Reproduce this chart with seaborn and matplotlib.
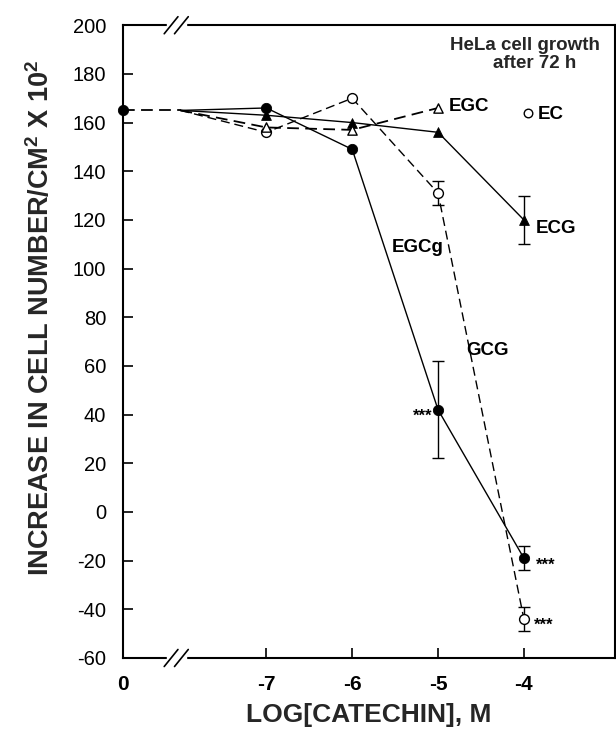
import numpy as np
import pandas as pd
import matplotlib
matplotlib.use("Agg")
import matplotlib.pyplot as plt
import seaborn as sns

# ---------------- data ----------------
log_conc = [-7, -6, -5, -4]
x_tick_pos = [-8.67, -7, -6, -5, -4]
x_tick_labels = ["0", "-7", "-6", "-5", "-4"]
y_ticks = list(range(-60, 201, 20))

control_value = 165.0          # value at zero catechin
control_pos = -8.67            # plotted position of "0"
break_pos = -8.0               # lines fan out from the axis break

egcg = [166, 149, 42, -19]
egcg_err = [0, 0, 20, 5]
gcg = [156, 170, 131, -44]
gcg_err = [0, 0, 5, 5]
egc_conc = [-7, -6, -5]
egc = [158, 157, 166]
ecg = [163, 160, 156, 120]
ecg_err = [0, 0, 0, 10]
ec_conc = [-3.95]
ec = [164]

# ---------------- style ----------------
sns.set_theme(style="ticks")
plt.rcParams["font.family"] = ["Liberation Sans", "DejaVu Sans"]
plt.rcParams["mathtext.fontset"] = "custom"
plt.rcParams["mathtext.rm"] = "Liberation Sans:bold"
plt.rcParams["mathtext.bf"] = "Liberation Sans:bold"

fig = plt.figure(figsize=(6.16, 7.29), dpi=100)
ax = fig.add_axes([0.1997, 0.0974, 0.7985, 0.868])

def series_df(xs, ys):
    return pd.DataFrame({"x": [break_pos] + list(xs), "y": [control_value] + list(ys)})

lw = 1.0
dash = (6.5, 3.5)

# control segment
sns.lineplot(data=pd.DataFrame({"x": [control_pos, break_pos], "y": [control_value, control_value]}),
             x="x", y="y", ax=ax, color="black", lw=1.3,
             linestyle=(0, dash), sort=False, errorbar=None, legend=False)

# EGCg: filled circle, solid
sns.lineplot(data=series_df(log_conc, egcg), x="x", y="y", ax=ax, color="black",
             lw=lw, sort=False, errorbar=None, legend=False)
# ECG: filled triangle, solid
sns.lineplot(data=series_df(log_conc, ecg), x="x", y="y", ax=ax, color="black",
             lw=lw, sort=False, errorbar=None, legend=False)
# GCG: open circle, dashed
sns.lineplot(data=series_df(log_conc, gcg), x="x", y="y", ax=ax, color="black",
             lw=lw, linestyle=(0, dash), sort=False, errorbar=None, legend=False)
# EGC: open triangle, dashed
sns.lineplot(data=series_df(egc_conc, egc), x="x", y="y", ax=ax, color="black",
             lw=1.3, linestyle=(0, dash), sort=False, errorbar=None, legend=False)

# error bars
def ebar(xs, ys, errs):
    for xv, yv, ev in zip(xs, ys, errs):
        if ev > 0:
            ax.errorbar([xv], [yv], yerr=[ev], fmt="none", ecolor="black",
                        elinewidth=1.0, capsize=4, capthick=1.0, zorder=3)

ebar(log_conc, egcg, egcg_err)
ebar(log_conc, gcg, gcg_err)
ebar(log_conc, ecg, ecg_err)

# markers
sns.scatterplot(x=[control_pos], y=[control_value], ax=ax, marker="o", s=55,
                color="black", edgecolor="black", zorder=5, clip_on=False, legend=False)
sns.scatterplot(x=log_conc, y=egcg, ax=ax, marker="o", s=55, color="black",
                edgecolor="black", zorder=5, legend=False)
sns.scatterplot(x=log_conc, y=ecg, ax=ax, marker="^", s=50, color="black",
                edgecolor="black", zorder=5, legend=False)
sns.scatterplot(x=log_conc, y=gcg, ax=ax, marker="o", s=50, color="white",
                edgecolor="black", linewidth=1.0, zorder=6, legend=False)
sns.scatterplot(x=egc_conc, y=egc, ax=ax, marker="^", s=45, color="white",
                edgecolor="black", linewidth=1.0, zorder=6, legend=False)
sns.scatterplot(x=ec_conc, y=ec, ax=ax, marker="o", s=38, color="white",
                edgecolor="black", linewidth=1.0, zorder=6, legend=False)

# ---------------- axes ----------------
ax.set_xlim(-8.67, -2.94)
ax.set_ylim(-60, 200)
ax.set_yticks(y_ticks)
ax.set_yticklabels([str(v) for v in y_ticks], fontsize=14.5)
ax.set_xticks(x_tick_pos)
ax.set_xticklabels(x_tick_labels, fontsize=15, fontweight="bold")
ax.tick_params(axis="both", direction="in", length=7, width=1.2, colors="black")
ax.tick_params(axis="x", pad=12)
ax.tick_params(axis="y", pad=12)
ax.xaxis.get_major_ticks()[0].tick1line.set_visible(False)
for sp in ax.spines.values():
    sp.set_linewidth(1.5)
    sp.set_color("black")
ax.spines["right"].set_visible(True)

ax.set_xlabel("LOG[CATECHIN], M", fontsize=19, fontweight="bold", labelpad=7)
ax.set_ylabel(r"INCREASE IN CELL NUMBER/CM$^{\mathbf{2}}$ X 10$^{\mathbf{2}}$",
              fontsize=19.5, fontweight="bold")
ax.yaxis.set_label_coords(-0.138, 0.538)

# axis breaks
bx = -8.05
for yv in (-60, 200):
    ax.add_patch(plt.Rectangle((bx - 0.11, yv - 2), 0.22, 4, transform=ax.transData,
                               color="white", clip_on=False, zorder=10))
    for dx in (-0.06, 0.06):
        ax.plot([bx + dx - 0.08, bx + dx + 0.08], [yv - 3.5, yv + 3.5], color="black",
                lw=1.2, clip_on=False, zorder=11)

# ---------------- annotations ----------------
tk = dict(fontsize=13.5, fontweight="bold", va="center", ha="left", color="black")
ax.text(-4.87, 166.5, "EGC", **tk)
ax.text(-3.84, 163.4, "EC", **tk)
ax.text(-3.86, 116.5, "ECG", **tk)
ax.text(-5.54, 108.5, "EGCg", **tk)
ax.text(-4.67, 66.5, "GCG", **tk)

st = dict(fontsize=12, fontweight="bold", va="center", color="black")
ax.text(-5.07, 39.5, "***", ha="right", **st)
ax.text(-3.86, -22, "***", ha="left", **st)
ax.text(-3.88, -46.5, "***", ha="left", **st)

ax.text(-3.99, 191.8, "HeLa cell growth", fontsize=13.5, fontweight="bold",
        ha="center", va="center")
ax.text(-3.88, 184.4, "after 72 h", fontsize=13.5, fontweight="bold",
        ha="center", va="center")

fig.savefig("out.png", dpi=100)
